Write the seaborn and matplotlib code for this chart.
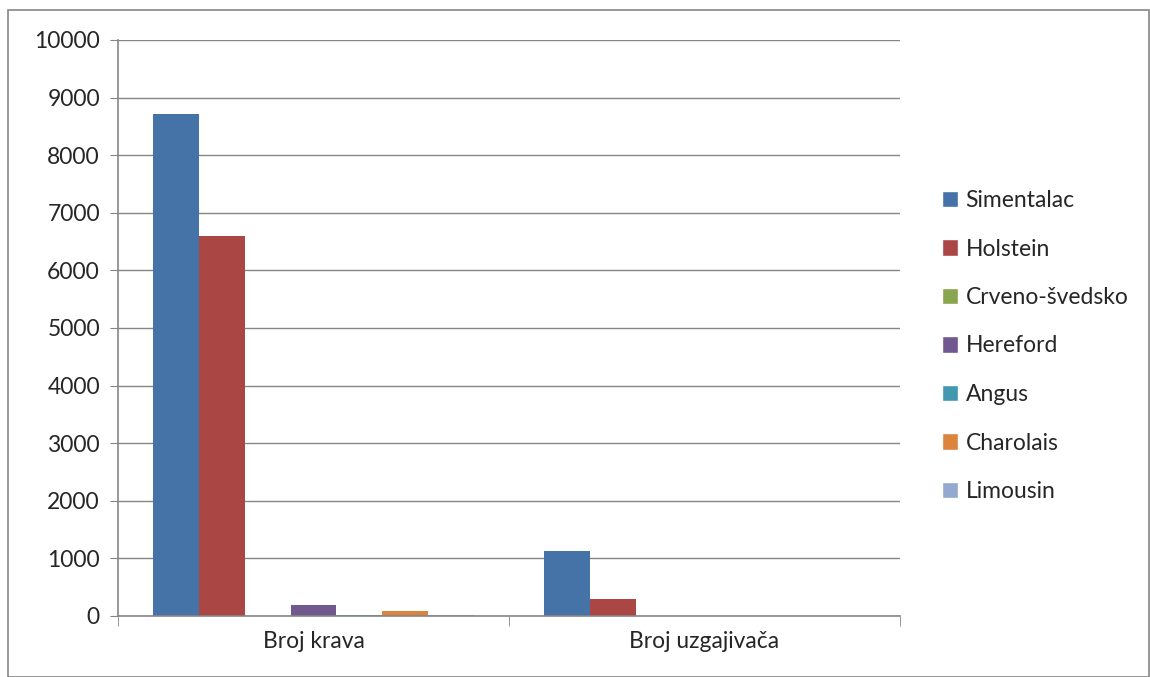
import matplotlib
matplotlib.use("Agg")
import matplotlib.pyplot as plt
import seaborn as sns
import pandas as pd
from matplotlib.patches import Rectangle, Patch

categories = ["Broj krava", "Broj uzgajivača"]
breeds = ["Simentalac", "Holstein", "Crveno-švedsko", "Hereford", "Angus", "Charolais", "Limousin"]
krava = [8720, 6600, 5, 195, 20, 90, 15]
uzgajivaca = [1130, 300, 2, 4, 3, 3, 2]
colors = ["#4572A7", "#AA4643", "#89A54E", "#71588F", "#4198AF", "#DB843D", "#93A9CF"]

rows = []
for b, k, u in zip(breeds, krava, uzgajivaca):
    rows.append({"kat": categories[0], "pasmina": b, "broj": k})
    rows.append({"kat": categories[1], "pasmina": b, "broj": u})
df = pd.DataFrame(rows)

sns.set_style("white")
plt.rcParams["font.family"] = ["Lato", "DejaVu Sans"]

fig = plt.figure(figsize=(11.5, 6.77), dpi=100)
ax = fig.add_axes([118 / 1150, 1 - 616 / 677, (900 - 118) / 1150, (616 - 40) / 677])

sns.barplot(data=df, x="kat", y="broj", hue="pasmina", hue_order=breeds, order=categories,
            palette=colors, width=0.8235, gap=0, saturation=1, linewidth=0, ax=ax, legend=False)

ax.set_xlim(-0.5, 1.5)
ax.set_ylim(0, 10000)
ax.set_yticks(range(0, 10001, 1000))
ax.yaxis.grid(True, color="#868686", linewidth=1)
ax.set_axisbelow(True)
ax.set_xlabel("")
ax.set_ylabel("")
for s in ["top", "right"]:
    ax.spines[s].set_visible(False)
for s in ["left", "bottom"]:
    ax.spines[s].set_color("#868686")
    ax.spines[s].set_linewidth(1.2)
ax.tick_params(axis="y", length=6, color="#868686", labelsize=16.5, pad=7, left=True)
ax.set_xticks([-0.5, 0.5, 1.5], minor=True)
ax.tick_params(axis="x", which="minor", length=7, color="#868686", bottom=True)
ax.tick_params(axis="x", which="major", length=0, labelsize=16.5, pad=11)

handles = [Patch(facecolor=c, label=b) for b, c in zip(breeds, colors)]
fig.legend(handles=handles, loc="center left", bbox_to_anchor=(921 / 1150, 1 - 346 / 677),
           frameon=False, fontsize=16.5, handlelength=0.7, handleheight=0.7,
           handletextpad=0.35, labelspacing=1.2)

fig.patches.append(Rectangle((8 / 1150, 0), 1 - 8 / 1150 - 1 / 1150, 1 - 10 / 677,
                             transform=fig.transFigure, fill=False, edgecolor="#868686", linewidth=1.2))

fig.savefig("out.png", dpi=100)
